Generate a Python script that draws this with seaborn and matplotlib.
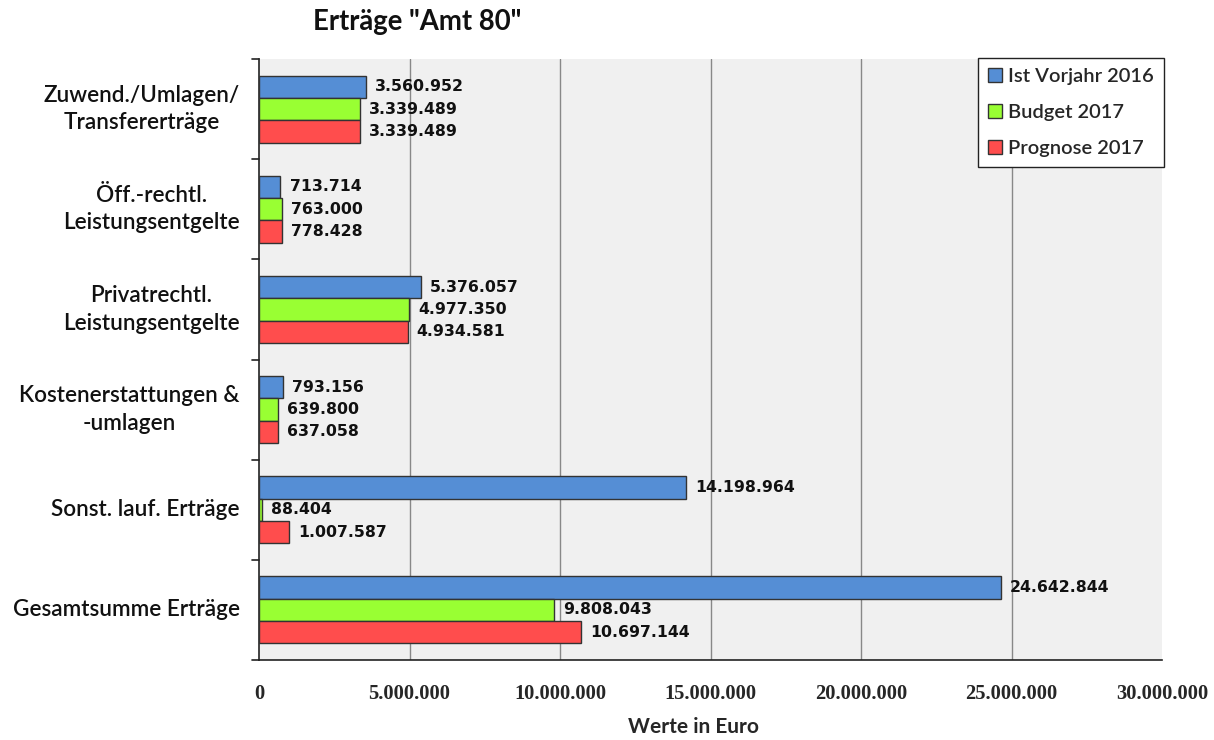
import matplotlib
matplotlib.use("Agg")
import matplotlib.pyplot as plt
import seaborn as sns
import pandas as pd
from matplotlib.patches import Patch

categories = [
    "Zuwend./Umlagen/\nTransfererträge",
    "Öff.-rechtl.\nLeistungsentgelte",
    "Privatrechtl.\nLeistungsentgelte",
    "Kostenerstattungen &\n-umlagen",
    "Sonst. lauf. Erträge",
    "Gesamtsumme Erträge",
]
series_names = ["Ist Vorjahr 2016", "Budget 2017", "Prognose 2017"]
ist_2016 = [3560952, 713714, 5376057, 793156, 14198964, 24642844]
budget_2017 = [3339489, 763000, 4977350, 639800, 88404, 9808043]
prognose_2017 = [3339489, 778428, 4934581, 637058, 1007587, 10697144]
x_ticks = [0, 5000000, 10000000, 15000000, 20000000, 25000000, 30000000]

colors = ["#558ED5", "#99FF33", "#FF4D4D"]


def de_format(v):
    return f"{int(round(v)):,}".replace(",", ".")


rows = []
for name, vals in zip(series_names, [ist_2016, budget_2017, prognose_2017]):
    for cat, v in zip(categories, vals):
        rows.append({"Kategorie": cat, "Serie": name, "Wert": v})
df = pd.DataFrame(rows)

sns.set_theme(style="white")
plt.rcParams["font.family"] = ["Lato", "DejaVu Sans"]

fig = plt.figure(figsize=(12.14, 7.40), dpi=100)
ax = fig.add_axes([259 / 1214, 80 / 740, 903 / 1214, 601 / 740])
ax.set_facecolor("#F0F0F0")

sns.barplot(
    data=df, y="Kategorie", x="Wert", hue="Serie", orient="h",
    palette=colors, saturation=1, width=0.67, edgecolor="#333333",
    linewidth=1.0, errorbar=None, ax=ax, legend=False, zorder=3,
)

ax.set_xlim(0, 30000000)
ax.set_ylim(len(categories) - 0.5, -0.5)

# vertical grid lines
for t in x_ticks[1:-1]:
    ax.axvline(t, color="#888888", linewidth=1.0, zorder=1)

# value labels at bar ends
for container, vals in zip(ax.containers, [ist_2016, budget_2017, prognose_2017]):
    for bar, v in zip(container, vals):
        y = bar.get_y() + bar.get_height() / 2
        ax.annotate(de_format(v), xy=(bar.get_width(), y), xytext=(6.5, 0),
                    textcoords="offset points", va="center", ha="left",
                    fontsize=11.3, fontweight="bold", family="DejaVu Sans",
                    color="#111111", zorder=5)

# spines
for side in ["top", "right"]:
    ax.spines[side].set_visible(False)
ax.spines["left"].set_color("#222222")
ax.spines["bottom"].set_color("#222222")
ax.spines["left"].set_linewidth(1.2)
ax.spines["bottom"].set_linewidth(1.2)

# x ticks
ax.set_xticks(x_ticks)
ax.set_xticklabels([de_format(t) for t in x_ticks], fontweight="bold",
                   fontsize=14.8, family="Liberation Serif")
ax.tick_params(axis="x", length=0, pad=17)

# y labels centered between category boundary ticks
ax.set_yticks(range(len(categories)))
ax.set_yticklabels([])
ax.tick_params(axis="y", length=0)
for i, cat in enumerate(categories):
    ax.text(-0.0215, i, cat, transform=ax.get_yaxis_transform(),
            ha="right", va="center", multialignment="center",
            fontsize=16.2, fontweight="semibold", color="#111111",
            linespacing=1.38)
# small boundary ticks on the left spine
for b in [k - 0.5 for k in range(len(categories) + 1)]:
    ax.plot([-0.008, 0], [b, b], transform=ax.get_yaxis_transform(),
            color="#222222", linewidth=1.2, clip_on=False)

ax.set_ylabel("")
ax.set_xlabel("Werte in Euro", fontsize=15, fontweight="bold")
ax.xaxis.set_label_coords((693 - 259) / 903, -(727 - 660) / 601)
ax.xaxis.label.set_va("center")

# legend
handles = [Patch(facecolor=c, edgecolor="#333333", linewidth=1.0) for c in colors]
leg = ax.legend(handles, series_names, loc="upper right",
                bbox_to_anchor=(1.002, 1.002), frameon=True, fancybox=False,
                edgecolor="#222222", facecolor="white", framealpha=1,
                prop={"size": 14.5, "weight": "semibold"},
                handlelength=0.7, handleheight=0.7,
                handletextpad=0.3, labelspacing=0.95, borderpad=0.5,
                borderaxespad=0)
leg.get_frame().set_linewidth(1.0)
leg.set_zorder(10)

fig.text(417 / 1214, 1 - 22 / 740, "Erträge \"Amt 80\"", ha="center",
         va="center", fontsize=19.8, fontweight="bold", color="#111111")

fig.savefig("out.png", dpi=100, facecolor="white")
